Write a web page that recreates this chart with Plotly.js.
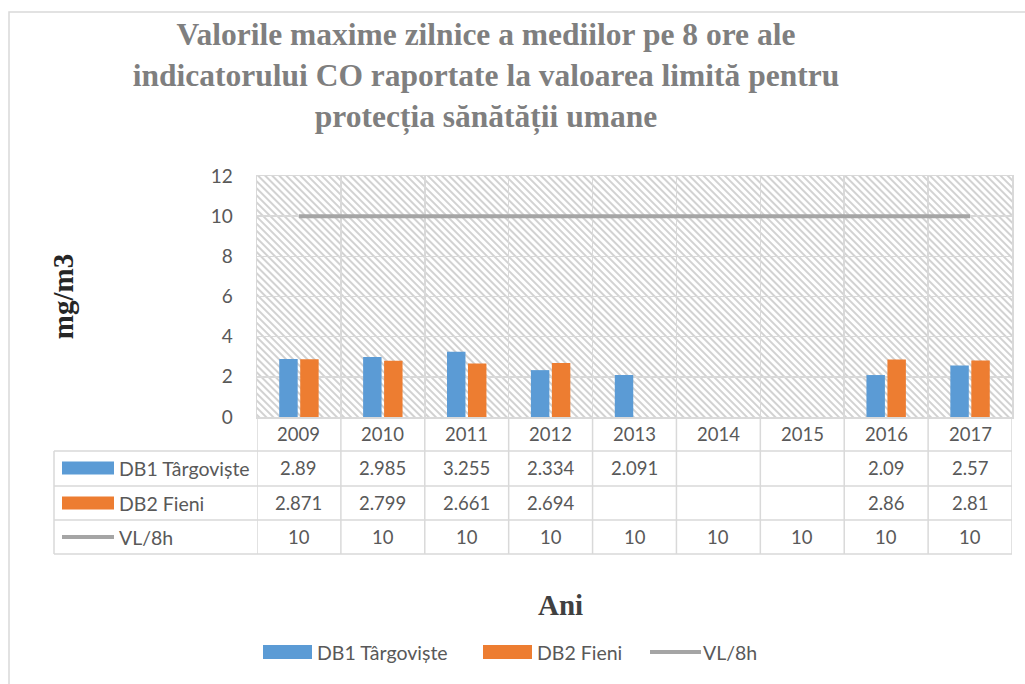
<!DOCTYPE html>
<html>
<head>
<meta charset="utf-8">
<script src="https://cdn.plot.ly/plotly-3.0.1.min.js"></script>
<style>html,body{margin:0;padding:0;background:#fff;}#chart{width:1025px;height:684px;}</style>
</head>
<body>
<div id="chart"></div>
<script>
// ---- data ----
var years = [2009, 2010, 2011, 2012, 2013, 2014, 2015, 2016, 2017];
var seriesNames = ['DB1 Târgoviște', 'DB2 Fieni', 'VL/8h'];
var db1 = [2.89, 2.985, 3.255, 2.334, 2.091, null, null, 2.09, 2.57];
var db2 = [2.871, 2.799, 2.661, 2.694, null, null, null, 2.86, 2.81];
var vl = [10, 10, 10, 10, 10, 10, 10, 10, 10];
var yTicks = [0, 2, 4, 6, 8, 10, 12];

// ---- styles / geometry ----
var W = 1025, H = 684;
var L = 257, R = 1012, T = 176, B = 417;
var colors = ['#5b9bd5', '#ed7d31', '#a5a5a5'];
var gridC = '#d9d9d9';
var txtC = '#595959';
var sans = 'Lato, "Open Sans", sans-serif';
var serif = '"Liberation Serif", "Times New Roman", serif';
var numSize = 18.5, labSize = 19.5;
function pxX(x) { return (x - L) / (R - L); }
function pxY(y) { return (B - y) / (B - T); }

// hatched plot background as an SVG pattern image
var pw = R - L, ph = B - T;
var svg = '<svg xmlns="http://www.w3.org/2000/svg" width="' + pw + '" height="' + ph + '">' +
  '<defs><pattern id="p" width="5" height="5" patternUnits="userSpaceOnUse" patternTransform="rotate(-45)">' +
  '<rect x="0" y="0" width="2" height="5" fill="#d2d2d2"/></pattern></defs>' +
  '<rect width="100%" height="100%" fill="#ffffff"/><rect width="100%" height="100%" fill="url(#p)"/></svg>';
var bgSrc = 'data:image/svg+xml;charset=utf-8,' + encodeURIComponent(svg);

var traces = [
  { type: 'bar', name: seriesNames[0], x: years, y: db1, marker: { color: colors[0] }, hoverinfo: 'x+y+name' },
  { type: 'bar', name: seriesNames[1], x: years, y: db2, marker: { color: colors[1] }, hoverinfo: 'x+y+name' },
  { type: 'scatter', mode: 'lines', name: seriesNames[2], x: years, y: vl, line: { color: colors[2], width: 4 } }
];

// ---- table (data table under the chart) ----
var shapes = [];
var annotations = [];
var tableLeft = 54;
var minY = years[0] - 0.5, maxY = years[years.length - 1] + 0.5;

function hline(y, x0, x1) {
  shapes.push({ type: 'line', xref: 'paper', yref: 'paper', x0: pxX(x0), x1: pxX(x1), y0: pxY(y), y1: pxY(y), line: { color: gridC, width: 1.5 } });
}
// horizontal table lines
hline(451, tableLeft, R); hline(486, tableLeft, R); hline(520, tableLeft, R); hline(554, tableLeft, R);
// vertical lines in the data columns (category boundaries)
for (var i = 0; i <= years.length; i++) {
  var xb = years[0] - 0.5 + i;
  shapes.push({ type: 'line', xref: 'x', yref: 'paper', x0: xb, x1: xb, y0: pxY(417), y1: pxY(554), line: { color: gridC, width: 1.5 } });
}
// left edge of the legend-key column
shapes.push({ type: 'line', xref: 'paper', yref: 'paper', x0: pxX(tableLeft), x1: pxX(tableLeft), y0: pxY(451), y1: pxY(554), line: { color: gridC, width: 1.5 } });

// year header
years.forEach(function (yr) {
  annotations.push({ xref: 'x', yref: 'paper', x: yr, y: pxY(434), text: String(yr), showarrow: false, xanchor: 'center', yanchor: 'middle', font: { family: sans, size: numSize, color: txtC } });
});
// values
var rows = [db1, db2, vl];
var rowMid = [468, 503, 537];
rows.forEach(function (vals, r) {
  vals.forEach(function (v, i) {
    if (v === null) return;
    annotations.push({ xref: 'x', yref: 'paper', x: years[i], y: pxY(rowMid[r]), text: String(v), showarrow: false, xanchor: 'center', yanchor: 'middle', font: { family: sans, size: numSize, color: txtC } });
  });
  // legend key in the table
  if (r < 2) {
    shapes.push({ type: 'rect', xref: 'paper', yref: 'paper', x0: pxX(62), x1: pxX(114), y0: pxY(rowMid[r] - 6.5), y1: pxY(rowMid[r] + 6.5), fillcolor: colors[r], line: { width: 0 } });
  } else {
    shapes.push({ type: 'line', xref: 'paper', yref: 'paper', x0: pxX(62), x1: pxX(114), y0: pxY(rowMid[r]), y1: pxY(rowMid[r]), line: { color: colors[r], width: 4 } });
  }
  annotations.push({ xref: 'paper', yref: 'paper', x: pxX(117), y: pxY(rowMid[r]), text: seriesNames[r], showarrow: false, xanchor: 'left', yanchor: 'middle', font: { family: sans, size: labSize, color: txtC } });
});

// bottom legend (manual, wide swatches as in the original)
var legX = [263, 483, 650];
var legY = 652;
seriesNames.forEach(function (nm, k) {
  if (k < 2) {
    shapes.push({ type: 'rect', xref: 'paper', yref: 'paper', x0: pxX(legX[k]), x1: pxX(legX[k] + 49), y0: pxY(legY - 7), y1: pxY(legY + 7), fillcolor: colors[k], line: { width: 0 } });
  } else {
    shapes.push({ type: 'line', xref: 'paper', yref: 'paper', x0: pxX(legX[k]), x1: pxX(legX[k] + 51), y0: pxY(legY), y1: pxY(legY), line: { color: colors[k], width: 4 } });
  }
  annotations.push({ xref: 'paper', yref: 'paper', x: pxX(legX[k] + (k < 2 ? 52 : 51)), y: pxY(legY), text: nm, showarrow: false, xanchor: 'left', yanchor: 'middle', font: { family: sans, size: labSize, color: txtC } });
});

// x-axis title "Ani"
annotations.push({ xref: 'paper', yref: 'paper', x: pxX(560), y: pxY(605), text: '<b>Ani</b>', showarrow: false, xanchor: 'center', yanchor: 'middle', font: { family: serif, size: 29, color: '#404040' } });

// outer chart border (left + top visible)
shapes.push({ type: 'rect', xref: 'paper', yref: 'paper', x0: pxX(9), x1: pxX(1040), y0: pxY(700), y1: pxY(12), line: { color: gridC, width: 1.5 }, fillcolor: 'rgba(0,0,0,0)', layer: 'below' });

var layout = {
  width: W, height: H,
  margin: { l: L, r: W - R, t: T, b: H - B, pad: 0 },
  paper_bgcolor: '#ffffff',
  plot_bgcolor: 'rgba(0,0,0,0)',
  showlegend: false,
  barmode: 'group',
  bargap: 0.5,
  bargroupgap: 0.12,
  title: {
    text: '<b>Valorile maxime zilnice a mediilor pe 8 ore ale<br>indicatorului CO raportate la valoarea limită pentru<br>protecția sănătății umane</b>',
    font: { family: serif, size: 31.5, color: '#7f7f7f' },
    x: 486 / W, xanchor: 'center',
    y: 1 - 45 / H, yanchor: 'top', yref: 'container'
  },
  xaxis: {
    range: [minY, maxY],
    tickmode: 'linear', tick0: minY, dtick: 1,
    showticklabels: false, ticks: '',
    showgrid: true, gridcolor: gridC, gridwidth: 1.5,
    showline: true, linecolor: gridC, linewidth: 1.5, mirror: true,
    zeroline: false, fixedrange: true
  },
  yaxis: {
    range: [0, 12],
    tickmode: 'array', tickvals: yTicks, ticktext: yTicks.map(String),
    ticks: 'outside', ticklen: 19, tickcolor: 'rgba(0,0,0,0)',
    tickfont: { family: sans, size: 19, color: txtC },
    showgrid: true, gridcolor: gridC, gridwidth: 1.5,
    showline: true, linecolor: gridC, linewidth: 1.5, mirror: true,
    zeroline: false, fixedrange: true,
    title: { text: '<b>mg/m3</b>', font: { family: serif, size: 29, color: '#262626' }, standoff: 128 }
  },
  images: [{ source: bgSrc, xref: 'paper', yref: 'paper', x: 0, y: 1, sizex: 1, sizey: 1, xanchor: 'left', yanchor: 'top', sizing: 'stretch', layer: 'below' }],
  shapes: shapes,
  annotations: annotations
};

Plotly.newPlot('chart', traces, layout, { displayModeBar: false, staticPlot: true });
</script>
</body>
</html>
